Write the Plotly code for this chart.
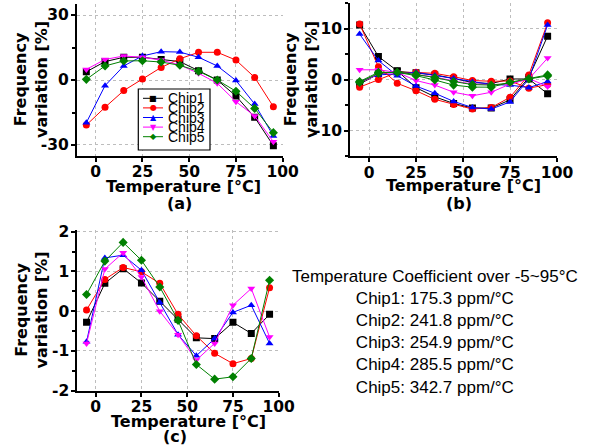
import plotly.graph_objects as go

W, H = 589, 448

temps = [-5, 5, 15, 25, 35, 45, 55, 65, 75, 85, 95]
chips = ["Chip1", "Chip2", "Chip3", "Chip4", "Chip5"]
colors = ["#000000", "#FF0000", "#0000FF", "#FF00FF", "#008000"]
symbols = ["square", "circle", "triangle-up", "triangle-down", "diamond"]
glyphs = ["■", "●", "▲", "▼", "◆"]

# (a) raw frequency variation
chip1_a = [3.8, 8.5, 10.5, 10.5, 9.5, 8.5, 4.3, 0.0, -7.4, -17.2, -30.3]
chip2_a = [-20.8, -12.6, -4.9, 0.5, 5.8, 9.8, 12.8, 12.8, 9.2, 1.2, -12.3]
chip3_a = [-19.7, -2.6, 6.5, 11.1, 13.1, 12.9, 10.5, 6.5, -0.2, -11.1, -25.8]
chip4_a = [4.9, 9.5, 11.1, 10.5, 9.2, 6.9, 3.1, -1.5, -10.0, -16.6, -28.5]
chip5_a = [0.3, 6.5, 8.8, 8.9, 8.3, 6.8, 4.0, 0.0, -5.2, -13.1, -24.3]

# (b) two sets per chip
chip1_b1 = [10.8, 4.6, 1.8, -1.5, -3.3, -4.6, -5.5, -5.5, -3.9, 0.5, 8.6]
chip2_b1 = [11.0, 2.6, -0.65, -2.1, -3.8, -4.8, -5.7, -5.4, -3.4, 1.0, 11.2]
chip3_b1 = [9.0, 3.8, 0.85, -1.2, -2.6, -4.2, -5.4, -5.7, -4.3, 0.2, 10.8]
chip4_b1 = [2.0, 2.0, 1.5, -0.1, -1.0, -2.4, -3.1, -2.4, -0.8, 0.2, 4.3]
chip5_b1 = [-0.3, 1.5, 1.5, 0.85, 0.0, -1.0, -1.4, -1.4, -0.45, 0.3, 1.0]

chip1_b2 = [-0.8, 1.2, 1.7, 1.4, 1.0, 0.3, -0.5, -0.7, 0.2, 0.2, -2.7]
chip2_b2 = [-1.4, 0.1, 1.5, 1.5, 1.3, 0.65, -0.1, -0.25, -0.2, -1.6, -0.9]
chip3_b2 = [-0.3, 1.0, 1.2, 1.5, 0.9, 0.3, -0.4, -0.9, -1.0, -1.5, -0.3]
chip4_b2 = [-0.6, 1.2, 1.5, 1.0, 0.6, -0.2, -0.8, -0.9, -0.8, 0.3, -1.3]
chip5_b2 = [-0.5, 1.3, 1.6, 1.1, 0.5, -0.3, -0.9, -1.0, -0.6, 0.2, 0.8]

# (c) residual
chip1_c = [-0.28, 0.70, 1.07, 0.71, 0.25, -0.20, -0.67, -0.69, -0.28, -0.56, -0.08]
chip2_c = [0.03, 0.80, 1.10, 0.99, 0.70, -0.08, -0.62, -1.06, -1.32, -1.19, 0.59]
chip3_c = [-0.77, 1.34, 1.41, 1.03, 0.22, -0.59, -1.12, -0.69, -0.03, 0.15, -0.81]
chip4_c = [-0.81, 1.06, 1.47, 0.86, 0.00, -0.59, -1.23, -0.81, 0.15, 0.57, -0.65]
chip5_c = [0.42, 1.26, 1.73, 1.28, 0.61, -0.23, -1.34, -1.71, -1.65, -1.19, 0.78]

tc_values = [175.3, 241.8, 254.9, 285.5, 342.7]

series_a = [chip1_a, chip2_a, chip3_a, chip4_a, chip5_a]
series_b1 = [chip1_b1, chip2_b1, chip3_b1, chip4_b1, chip5_b1]
series_b2 = [chip1_b2, chip2_b2, chip3_b2, chip4_b2, chip5_b2]
series_c = [chip1_c, chip2_c, chip3_c, chip4_c, chip5_c]

fig = go.Figure()


def add_set(data, xa, ya):
    for name, ys, c, s in zip(chips, data, colors, symbols):
        fig.add_trace(go.Scatter(
            x=temps, y=ys, mode="lines+markers", name=name,
            line=dict(color=c, width=1),
            marker=dict(symbol=s, size=7, color=c),
            xaxis=xa, yaxis=ya, showlegend=False))


add_set(series_a, "x", "y")
add_set(series_b2, "x2", "y2")
add_set(series_b1, "x2", "y2")
add_set(series_c, "x3", "y3")

tick_font = dict(family="DejaVu Sans", size=15.5, color="black")
title_font = dict(family="DejaVu Sans", size=16, color="black")


def xstyle(domain, anchor):
    return dict(domain=domain, anchor=anchor, range=[-10, 100], automargin=False,
                tickvals=[0, 25, 50, 75, 100], ticktext=["<b>%d</b>" % v for v in [0, 25, 50, 75, 100]],
                showline=True, linecolor="black", linewidth=2,
                ticks="outside", ticklen=4, tickwidth=2, tickcolor="black",
                ticklabelstandoff=-3,
                showgrid=True, gridcolor="#bdbdbd", griddash="dot", gridwidth=1,
                zeroline=False, tickfont=tick_font)


def ystyle(domain, anchor, rng, vals, minor):
    return dict(domain=domain, anchor=anchor, range=rng, automargin=False,
                tickvals=vals, ticktext=["<b>%g</b>" % v for v in vals],
                showline=True, linecolor="black", linewidth=2,
                ticks="outside", ticklen=4, tickwidth=2, tickcolor="black",
                ticklabelstandoff=-1,
                minor=dict(dtick=minor, ticks="outside", ticklen=3, tickwidth=2,
                           tickcolor="black", showgrid=False),
                showgrid=True, gridcolor="#bdbdbd", griddash="dot", gridwidth=1,
                zeroline=False, tickfont=tick_font)


fig.update_layout(
    width=W, height=H,
    margin=dict(l=0, r=0, t=0, b=0, autoexpand=False),
    paper_bgcolor="white", plot_bgcolor="white",
    showlegend=False,
    xaxis=xstyle([0.1307, 0.4800], "y"),
    yaxis=ystyle([0.6522, 0.9906], "x", [-35, 35], [-30, 0, 30], 15),
    xaxis2=xstyle([0.5946, 0.9457], "y2"),
    yaxis2=ystyle([0.6507, 0.9922], "x2", [-15, 15], [-10, 0, 10], 5),
    xaxis3=xstyle([0.1314, 0.4732], "y3"),
    yaxis3=ystyle([0.1279, 0.4873], "x3", [-2, 2.05], [-2, -1, 0, 1, 2], 0.5),
)


def px(x, y):
    return x / W, 1 - y / H


annos = []
# axis titles and panel labels
for (tx, ty), (lx, ly), (yx, yy), lab in [
    ((183.7, 186), (179, 203), (31, 80), "(a)"),
    ((463, 185), (459, 203), (301, 80), "(b)"),
    ((188, 421), (175, 436), (31.5, 310), "(c)"),
]:
    ax_, ay_ = px(tx, ty)
    annos.append(dict(x=ax_, y=ay_, text="<b>Temperature [°C]</b>", font=title_font))
    ax_, ay_ = px(lx, ly)
    annos.append(dict(x=ax_, y=ay_, text="<b>%s</b>" % lab, font=title_font))
    ax_, ay_ = px(yx, yy)
    annos.append(dict(x=ax_, y=ay_, text="<b>Frequency<br>variation [%]</b>",
                      textangle=-90, font=title_font))

# temperature coefficient text
tc_lines = ["Temperature Coefficient over -5~95°C"] + [
    "%s: %.1f ppm/°C" % (n, v) for n, v in zip(chips, tc_values)]
ax_, ay_ = px(435, 331.5)
annos.append(dict(x=ax_, y=ay_, text="<br>".join(tc_lines), align="center",
                  font=dict(family="Liberation Sans, Arial", size=17, color="black")))

# legend for panel (a)
shapes = []
x0, y0 = px(138.3, 89)
x1, y1 = px(210, 150)
shapes.append(dict(type="rect", xref="paper", yref="paper", x0=x0, y0=y1, x1=x1, y1=y0,
                   line=dict(color="black", width=1.2), fillcolor="white", layer="above"))
for i, (name, c, g) in enumerate(zip(chips, colors, glyphs)):
    yc = 98.3 + i * 9.6
    lx0, ly = px(143, yc)
    lx1, _ = px(163, yc)
    shapes.append(dict(type="line", xref="paper", yref="paper", x0=lx0, x1=lx1, y0=ly, y1=ly,
                       line=dict(color=c, width=1), layer="above"))
    gx, _ = px(153, yc)
    annos.append(dict(x=gx, y=ly, text=g, font=dict(family="DejaVu Sans", size=8, color=c)))
    tx_, _ = px(166, yc)
    annos.append(dict(x=tx_, y=ly, text=name, xanchor="left",
                      font=dict(family="Liberation Sans, Arial", size=14, color="black")))

for a in annos:
    a.setdefault("xref", "paper")
    a.setdefault("yref", "paper")
    a.setdefault("showarrow", False)
    a.setdefault("xanchor", "center")
    a.setdefault("yanchor", "middle")

fig.update_layout(annotations=annos, shapes=shapes)

# drop the default page margin so the figure sits at the window's corner
fig.write_html("out.html", config={"displayModeBar": False},
               post_script="document.body.style.margin='0';")
